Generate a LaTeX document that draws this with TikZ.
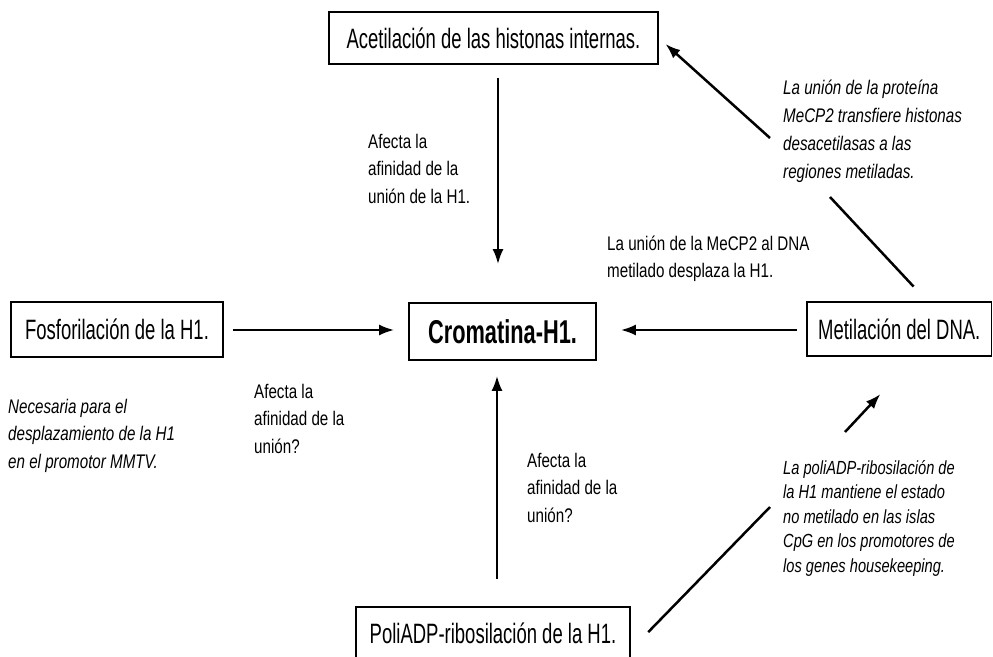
\documentclass[tikz,border=0pt]{standalone}
\usepackage{fontspec}
\setmainfont{Liberation Sans}
\newfontfamily\boxfont{Liberation Sans}[FakeStretch=0.66]
\newfontfamily\notefont{Liberation Sans}[FakeStretch=0.77]
\usetikzlibrary{arrows.meta}

\begin{document}
\begin{tikzpicture}[x=1pt,y=-1pt,
		box/.style={
			draw,line width=1.6pt,inner sep=0pt,
			font=\boxfont\fontsize{28}{33}\selectfont
		},
		lbl/.style={
			anchor=base west,inner sep=0pt,align=left,
			font=\notefont\fontsize{19.7}{27.5}\selectfont
		},
		note/.style={
			lbl,font=\notefont\itshape\fontsize{19.7}{27.7}\selectfont
		},
		arr/.style={line width=2.5pt,-{Latex[length=15pt,width=11pt]}},
		seg/.style={line width=2.5pt}
	]
		\useasboundingbox (0,0) rectangle (993,656);
		\clip (0,0) rectangle (993,656);
		% boxes
		\node[box,minimum width=329pt,minimum height=52pt] (acet) at (493.5,38) {Acetilación de las histonas internas.};
		\node[box,minimum width=187pt,minimum height=57pt,
			font=\boxfont\bfseries\fontsize{33}{38}\selectfont] (crom) at (502.5,331.5) {Cromatina-H1.}; % centre
		\node[box,minimum width=212pt,minimum height=55pt] (fosf) at (117,329.5) {Fosforilación de la H1.};
		\node[box,minimum width=184.5pt,minimum height=54pt] (metil) at (899.25,329) {Metilación del DNA.};
		\node[box,minimum width=274pt,minimum height=53pt] (poli) at (493,633.5) {PoliADP-ribosilación de la H1.};
		
		% labels (placed by the baseline of their last line)
		\node[lbl] (lbltop) at (368,203) {Afecta la\\afinidad de la\\unión de la H1.};
		\node[lbl] (lblmecp) at (607,277.5) {La unión de la MeCP2 al DNA\\metilado desplaza la H1.};
		\node[lbl] (lblleft) at (254,453) {Afecta la\\afinidad de la\\unión?};
		\node[lbl] (lblbot) at (527,522) {Afecta la\\afinidad de la\\unión?};
		\node[note] (notedeac) at (783,178) {La unión de la proteína\\MeCP2 transfiere histonas\\desacetilasas a las\\regiones metiladas.};
		\node[note] (notemmtv) at (8,468.4) {Necesaria para el\\desplazamiento de la H1\\en el promotor MMTV.};
		\node[note,font=\notefont\itshape\fontsize{19}{24.5}\selectfont] (notecpg) at (783,572)
			{La poliADP-ribosilación de\\la H1 mantiene el estado\\no metilado en las islas\\CpG en los promotores de\\los genes housekeeping.};
		
		% arrows
		\coordinate (vtop) at (498,0);
		\coordinate (vbot) at (497,0);
		\coordinate (hmid) at (0,330);
		\draw[arr,shorten <=13pt,shorten >=38pt] (acet.south -| vtop) -- (crom.north -| vtop);
		\draw[arr,shorten <=27pt,shorten >=15pt] (poli.north -| vbot) -- (crom.south -| vbot);
		\draw[arr,shorten <=9pt,shorten >=14pt] (fosf.east |- hmid) -- (crom.west |- hmid);
		\draw[arr,shorten <=9pt,shorten >=24pt] (metil.west |- hmid) -- (crom.east |- hmid);
		
		% diagonals, broken by the notes
		\coordinate (brkA) at (830,197);
		\coordinate (brkB) at (770,138);
		\draw[seg,shorten <=20pt] ([xshift=28pt]metil.north) -- (brkA);
		\draw[arr,shorten >=9pt] (brkB) -- (acet.east);
		\coordinate (brkC) at (770,507);
		\coordinate (brkD) at (845,432);
		\draw[seg,shorten <=25pt] ([yshift=-16.5pt]poli.east) -- (brkC);
		\draw[arr,shorten >=51pt] (brkD) -- ([xshift=16pt]metil.south);
\end{tikzpicture}
\end{document}
